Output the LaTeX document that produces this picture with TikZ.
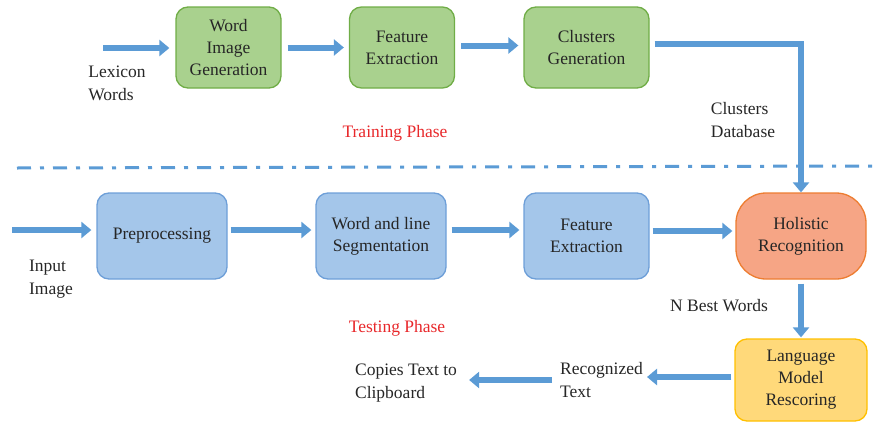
\documentclass[tikz,border=0pt]{standalone}
\usepackage{fontspec}
\newfontfamily\libserif{Liberation Serif}
\usetikzlibrary{arrows.meta,calc}
\definecolor{arrblue}{HTML}{5B9BD5}
\definecolor{grfill}{HTML}{A9D18E}
\definecolor{grline}{HTML}{70AD47}
\definecolor{blfill}{HTML}{A4C6EA}
\definecolor{blline}{HTML}{6E9FD8}
\definecolor{orfill}{HTML}{F6A585}
\definecolor{orline}{HTML}{ED7D31}
\definecolor{yefill}{HTML}{FFD97A}
\definecolor{yeline}{HTML}{FFC000}
\definecolor{phasered}{HTML}{E8282B}
\definecolor{txt}{HTML}{262626}
\tikzset{
  box/.style={draw, line width=1.3pt, rounded corners=12pt, align=center,
    font=\libserif\fontsize{17.5}{22}\selectfont, text=txt, inner sep=2pt},
  greenbox/.style={box, fill=grfill, draw=grline},
  bluebox/.style={box, fill=blfill, draw=blline},
  arr/.style={draw=arrblue, line width=6pt, -{Triangle[width=16pt,length=10pt]}},
  lbl/.style={font=\libserif\fontsize{17.5}{23}\selectfont, text=txt, align=left, inner sep=0pt},
  phase/.style={font=\libserif\fontsize{17.5}{22}\selectfont, text=phasered, inner sep=0pt},
}
\begin{document}
\begin{tikzpicture}[x=1pt,y=-1pt]
\useasboundingbox (0,0) rectangle (875,423);
% training phase boxes
\node[greenbox, minimum width=105pt, minimum height=81pt] (wig) at (228.5,47.5) {Word\\Image\\Generation};
\node[greenbox, minimum width=105pt, minimum height=81pt] (fe1) at (402,47.5) {Feature\\Extraction};
\node[greenbox, minimum width=125pt, minimum height=81pt] (cg) at (586.5,47.5) {Clusters\\Generation};
% testing phase boxes
\node[bluebox, minimum width=130pt, minimum height=86pt] (pre) at (162,236) {Preprocessing};
\node[bluebox, minimum width=130pt, minimum height=86pt] (seg) at (381,236) {Word and line\\Segmentation};
\node[bluebox, minimum width=125pt, minimum height=86pt] (fe2) at (586.5,236) {Feature\\Extraction};
\node[box, fill=orfill, draw=orline, rounded corners=30pt, minimum width=130pt, minimum height=86pt] (hr) at (801,236) {Holistic\\Recognition};
\node[box, fill=yefill, draw=yeline, minimum width=132pt, minimum height=82pt] (lm) at (801,380) {Language\\Model\\Rescoring};
% labels
\node[lbl] (lex) at (117,83) {Lexicon\\Words};
\node[lbl] (cdb) at (743,120) {Clusters\\Database};
\node[lbl] (inp) at (51,279) {Input\\Image};
\node[lbl] (nbw) at (719,306) {N Best Words};
\node[lbl, anchor=west] (rt) at (560,380) {Recognized\\Text};
\node[lbl] (ct) at (406,383) {Copies Text to\\Clipboard};
\node[phase] (tr) at (395,133) {Training Phase};
\node[phase] (te) at (397,328) {Testing Phase};
% separator
\coordinate (sepl) at (17,168);
\coordinate (sepr) at (875,166);
\draw[arrblue, line width=3pt, dash pattern=on 14pt off 9pt on 4pt off 9pt] (sepl) -- (sepr);
% free ends
\coordinate (lexin) at (103,48);
\coordinate (imgin) at (12,230);
\coordinate (corner) at (801,44);
% top arrows
\draw[arr, shorten >=6pt] (lexin) -- (lexin -| wig.west);
\draw[arr, shorten <=6pt, shorten >=5pt] (wig.east) -- (fe1.west);
\draw[arr, shorten <=6pt, shorten >=5pt] ([yshift=2pt]fe1.east) -- ([yshift=2pt]cg.west);
\draw[draw=arrblue, line width=6pt, line join=miter, shorten <=5pt, -{Triangle[width=16pt,length=10pt]}]
  ([yshift=3.5pt]cg.east) -- (corner) -- (hr.north);
% bottom arrows
\draw[arr, shorten >=5pt] (imgin) -- (imgin -| pre.west);
\draw[arr, shorten <=3pt, shorten >=4pt] ([yshift=6pt]pre.east) -- ([yshift=6pt]seg.west);
\draw[arr, shorten <=5pt, shorten >=4pt] ([yshift=6pt]seg.east) -- ([yshift=6pt]fe2.west);
\draw[arr, shorten <=3pt, shorten >=3pt] ([yshift=5pt]fe2.east) -- ([yshift=5pt]hr.west);
\draw[arr, shorten <=4pt, shorten >=1pt] (hr.south) -- (lm.north);
\draw[arr, shorten <=3pt, shorten >=4pt] ([yshift=3pt]lm.west) -- ([yshift=3pt]lm.west -| rt.east);
\draw[arr, shorten <=8pt, shorten >=12pt] (rt.west) -- (rt.west -| ct.east);
\end{tikzpicture}
\end{document}
